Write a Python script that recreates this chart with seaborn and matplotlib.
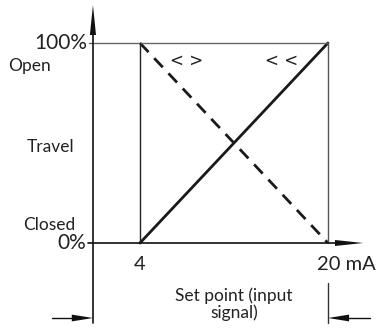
import matplotlib
matplotlib.use("Agg")
import matplotlib.pyplot as plt
import seaborn as sns
import pandas as pd

# set point (mA) vs travel (%)
signal_ma = [4, 20]
travel_direct = [0, 100]
travel_reverse = [100, 0]
tick_signal = [4, 20]
tick_labels = ["4", "20 mA"]

sns.set_theme(style="white")
plt.rcParams['font.family'] = ['Lato', 'DejaVu Sans']

fig = plt.figure(figsize=(3.8, 3.3), dpi=100)
ax = fig.add_axes([0, 0, 1, 1])
ax.set_xlim(-7.91, 24.43)
ax.set_ylim(-43.5, 121.5)
ax.axis("off")

df = pd.DataFrame({"signal": signal_ma * 2,
                   "travel": travel_direct + travel_reverse,
                   "dir": ["direct"] * 2 + ["reverse"] * 2})
sns.lineplot(data=df, x="signal", y="travel", style="dir", color="#1a1a1a",
             lw=2, dashes={"direct": "", "reverse": (4.5, 3)}, legend=False, ax=ax)

ink = "#111111"
# frame lines
ax.plot([-0.3, 20], [100, 100], color="#666666", lw=1)
ax.plot([4, 4], [0, 100], color="#222222", lw=1)
ax.plot([20, 20], [0, 100], color="#555555", lw=1)
ax.plot([-0.4, 20.8], [0, 0], color=ink, lw=1.2)

# axes with arrow heads
ax.plot([0, 0], [-40, 105], color=ink, lw=1.2)
ax.fill([-0.26, 0.26, 0], [104, 104, 119], color=ink, lw=0)
ax.fill([20.6, 20.6, 23.0], [-1.5, 1.5, 0], color=ink, lw=0)

# dimension marks below
ax.plot([20, 20], [-20, -40], color="#333333", lw=1)
ax.plot([-3.5, -1.5], [-37.5, -37.5], color=ink, lw=1)
ax.fill([-1.8, -1.8, 0], [-39.2, -35.8, -37.5], color=ink, lw=0)
ax.plot([21.5, 23.6], [-37.5, -37.5], color=ink, lw=1)
ax.fill([21.8, 21.8, 20], [-39.2, -35.8, -37.5], color=ink, lw=0)

# texts
fs = 12.5
txt = "#222222"
ax.text(-0.45, 100, "100%", ha="right", va="center", fontsize=15, color=txt)
ax.text(-0.6, 0, "0%", ha="right", va="center", fontsize=15, color=txt)
ax.text(-7.2, 88.5, "Open", ha="left", va="center", fontsize=fs, color=txt)
ax.text(-5.6, 48, "Travel", ha="left", va="center", fontsize=fs, color=txt)
ax.text(-5.9, 9, "Closed", ha="left", va="center", fontsize=fs, color=txt)
tick_x = [4, 21.55]
for s, lab in zip(tick_x, tick_labels):
    ax.text(s, -11, lab, ha="center", va="center", fontsize=14.5, color=txt)
ax.text(12.0, -30.5, "Set point (input\nsignal)", ha="center", va="center",
        fontsize=fs, color=txt, linespacing=1.0)
ax.text(7.95, 91, "< >", ha="center", va="center", fontsize=12,
        color=txt, family="DejaVu Sans")
ax.text(16.1, 91, "< <", ha="center", va="center", fontsize=12,
        color=txt, family="DejaVu Sans")

fig.savefig("out.png", dpi=100, facecolor="white")
